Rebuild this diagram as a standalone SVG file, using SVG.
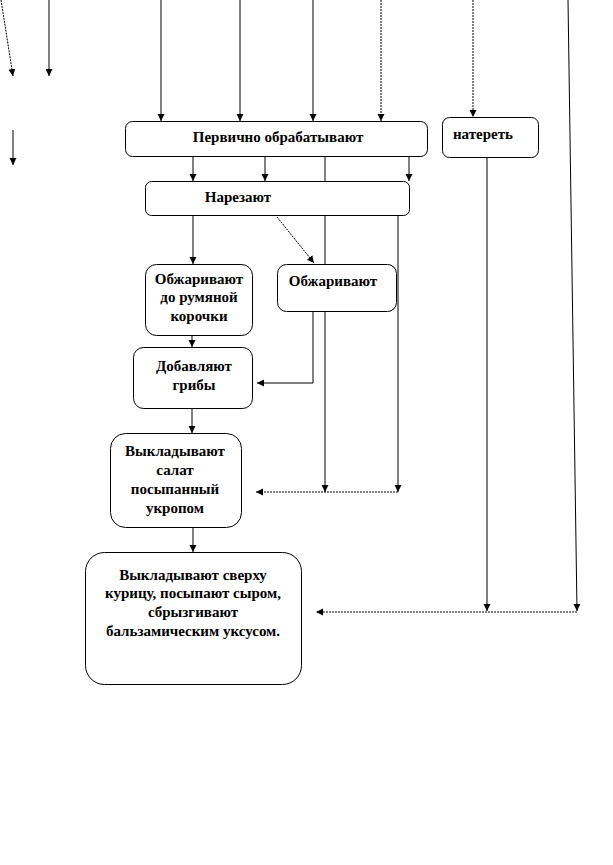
<svg xmlns="http://www.w3.org/2000/svg" width="613" height="865" viewBox="0 0 613 865">
<style>
.box{fill:#fff;stroke:#000;stroke-width:1}
.t{font-family:"Liberation Serif","Times New Roman",serif;font-weight:bold;font-size:15px;fill:#000;text-anchor:middle}
.c{fill:none;stroke:#000;stroke-width:1}
.d{stroke-dasharray:2 1}
</style>
<defs>
<marker id="a" markerUnits="userSpaceOnUse" markerWidth="8" markerHeight="8" refX="7" refY="4" orient="auto">
<path d="M0,0.5 L7,4 L0,7.5 Z" fill="#000"/>
</marker>
</defs>
<rect width="613" height="865" fill="#fff"/>
<g id="connectors">
<path class="c d" d="M1,0 L13,76" marker-end="url(#a)"/>
<path class="c" d="M49,0 V76" marker-end="url(#a)"/>
<path class="c" d="M13,130 V165" marker-end="url(#a)"/>
<path class="c" d="M161,0 V121" marker-end="url(#a)"/>
<path class="c" d="M240,0 V121" marker-end="url(#a)"/>
<path class="c" d="M313,0 V121" marker-end="url(#a)"/>
<path class="c d" d="M381,0 V121" marker-end="url(#a)"/>
<path class="c d" d="M473,0 V117" marker-end="url(#a)"/>
<path class="c" d="M568,0 L577,611" marker-end="url(#a)"/>
<path class="c d" d="M577,612 H316" marker-end="url(#a)"/>
<path class="c" d="M487,157 V611" marker-end="url(#a)"/>
<path class="c" d="M193,157 V181" marker-end="url(#a)"/>
<path class="c" d="M265,157 V181" marker-end="url(#a)"/>
<path class="c" d="M409,157 V181" marker-end="url(#a)"/>
<path class="c" d="M325,157 V492" marker-end="url(#a)"/>
<path class="c" d="M398,216 V492" marker-end="url(#a)"/>
<path class="c d" d="M398,492 H256" marker-end="url(#a)"/>
<path class="c" d="M193,205 V264" marker-end="url(#a)"/>
<path class="c d" d="M277,217 L314,263" marker-end="url(#a)"/>
<path class="c" d="M313,311 V383 H257" marker-end="url(#a)"/>
<path class="c" d="M192,336 V347" marker-end="url(#a)"/>
<path class="c" d="M192,395 V433" marker-end="url(#a)"/>
<path class="c" d="M193,515 V552" marker-end="url(#a)"/>
</g>
<g id="n1">
<rect class="box" x="125.5" y="121.5" width="302" height="35" rx="7"/>
<text class="t" x="278" y="142">Первично обрабатывают</text>
</g>
<g id="n2">
<rect class="box" x="442.5" y="117.5" width="96" height="40" rx="7"/>
<text class="t" x="483" y="139">натереть</text>
</g>
<g id="n3">
<rect class="box" x="145.5" y="181.5" width="264" height="34" rx="6"/>
<text class="t" x="238" y="202">Нарезают</text>
</g>
<g id="n4">
<rect class="box" x="145.5" y="264.5" width="107" height="71" rx="11"/>
<text class="t" x="199" y="284">Обжаривают</text>
<text class="t" x="199" y="302">до румяной</text>
<text class="t" x="199" y="321">корочки</text>
</g>
<g id="n5">
<rect class="box" x="277.5" y="264.5" width="119" height="47" rx="9"/>
<text class="t" x="333" y="286">Обжаривают</text>
</g>
<g id="n6">
<rect class="box" x="133.5" y="347.5" width="119" height="61" rx="10"/>
<text class="t" x="194" y="371">Добавляют</text>
<text class="t" x="194" y="390">грибы</text>
</g>
<g id="n7">
<rect class="box" x="110.5" y="433.5" width="131" height="94" rx="15"/>
<text class="t" x="175" y="456">Выкладывают</text>
<text class="t" x="175" y="475">салат</text>
<text class="t" x="175" y="494">посыпанный</text>
<text class="t" x="175" y="513">укропом</text>
</g>
<g id="n8">
<rect class="box" x="85.5" y="552.5" width="216" height="132" rx="19"/>
<text class="t" x="193" y="580">Выкладывают сверху</text>
<text class="t" x="193" y="598">курицу, посыпают сыром,</text>
<text class="t" x="193" y="617">сбрызгивают</text>
<text class="t" x="193" y="636">бальзамическим уксусом.</text>
</g>
</svg>
